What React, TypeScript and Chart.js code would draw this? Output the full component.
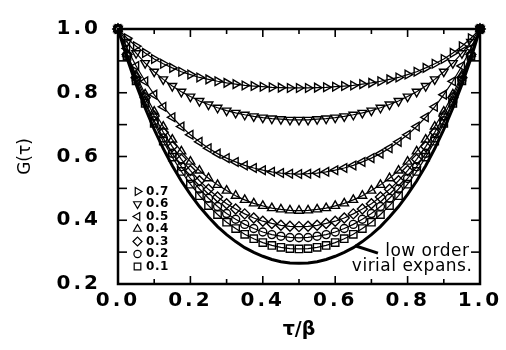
import React, { useEffect, useRef } from 'react';
import { Chart, registerables } from 'chart.js';
import { drawPoint } from 'chart.js/helpers';

Chart.register(...registerables);

const tauBeta = [0,0.025,0.05,0.075,0.1,0.125,0.15,0.175,0.2,0.225,0.25,0.275,0.3,0.325,0.35,0.375,0.4,0.425,0.45,0.475,0.5,0.525,0.55,0.575,0.6,0.625,0.65,0.675,0.7,0.725,0.75,0.775,0.8,0.825,0.85,0.875,0.9,0.925,0.95,0.975,1];

const g07 = [1.000,0.971,0.946,0.925,0.906,0.891,0.878,0.866,0.857,0.848,0.842,0.836,0.831,0.827,0.823,0.821,0.819,0.817,0.816,0.815,0.815,0.815,0.816,0.817,0.819,0.821,0.823,0.827,0.831,0.836,0.842,0.848,0.857,0.866,0.878,0.891,0.906,0.925,0.946,0.971,1.000];
const g06 = [1.000,0.959,0.924,0.893,0.866,0.842,0.821,0.803,0.788,0.774,0.763,0.753,0.744,0.737,0.731,0.726,0.722,0.719,0.717,0.715,0.715,0.715,0.717,0.719,0.722,0.726,0.731,0.737,0.744,0.753,0.763,0.774,0.788,0.803,0.821,0.842,0.866,0.893,0.924,0.959,1.000];
const g05 = [1.000,0.939,0.884,0.836,0.794,0.756,0.723,0.694,0.668,0.646,0.626,0.609,0.595,0.583,0.572,0.564,0.557,0.552,0.548,0.546,0.545,0.546,0.548,0.552,0.557,0.564,0.572,0.583,0.595,0.609,0.626,0.646,0.668,0.694,0.723,0.756,0.794,0.836,0.884,0.939,1.000];
const g04 = [1.000,0.923,0.855,0.795,0.741,0.694,0.653,0.616,0.584,0.556,0.532,0.511,0.493,0.477,0.464,0.453,0.445,0.438,0.434,0.431,0.430,0.431,0.434,0.438,0.445,0.453,0.464,0.477,0.493,0.511,0.532,0.556,0.584,0.616,0.653,0.694,0.741,0.795,0.855,0.923,1.000];
const g03 = [1.000,0.920,0.848,0.784,0.727,0.676,0.631,0.591,0.556,0.524,0.497,0.473,0.452,0.435,0.420,0.407,0.397,0.390,0.384,0.381,0.380,0.381,0.384,0.390,0.397,0.407,0.420,0.435,0.452,0.473,0.497,0.524,0.556,0.591,0.631,0.676,0.727,0.784,0.848,0.920,1.000];
const g02 = [1.000,0.915,0.840,0.772,0.712,0.658,0.610,0.568,0.531,0.498,0.469,0.443,0.421,0.403,0.387,0.374,0.363,0.355,0.350,0.346,0.345,0.346,0.350,0.355,0.363,0.374,0.387,0.403,0.421,0.443,0.469,0.498,0.531,0.568,0.610,0.658,0.712,0.772,0.840,0.915,1.000];
const g01 = [1.000,0.914,0.837,0.767,0.704,0.648,0.598,0.553,0.513,0.477,0.446,0.418,0.394,0.374,0.356,0.342,0.330,0.321,0.315,0.311,0.310,0.311,0.315,0.321,0.330,0.342,0.356,0.374,0.394,0.418,0.446,0.477,0.513,0.553,0.598,0.648,0.704,0.767,0.837,0.914,1.000];
const virial = [1.000,0.908,0.826,0.752,0.685,0.625,0.571,0.523,0.481,0.443,0.410,0.380,0.355,0.333,0.314,0.299,0.287,0.277,0.270,0.266,0.265,0.266,0.270,0.277,0.287,0.299,0.314,0.333,0.355,0.380,0.410,0.443,0.481,0.523,0.571,0.625,0.685,0.752,0.826,0.908,1.000];

const seriesLabels = ['0.7', '0.6', '0.5', '0.4', '0.3', '0.2', '0.1'];
const seriesValues = [g07, g06, g05, g04, g03, g02, g01];
const virialLabel = 'low order virial expans.';

const annotationText = ['low order', 'virial expans.'];
const annotationPos = [[0.738, 0.303], [0.646, 0.256]];
const arrowFrom = [0.718, 0.297];
const arrowTo = [0.655, 0.32];

const markerStyles = [
  { pointStyle: 'triangle', rotation: 90, radius: 5 },
  { pointStyle: 'triangle', rotation: 180, radius: 5 },
  { pointStyle: 'triangle', rotation: -90, radius: 5 },
  { pointStyle: 'triangle', rotation: 0, radius: 5 },
  { pointStyle: 'rectRot', rotation: 0, radius: 5 },
  { pointStyle: 'circle', rotation: 0, radius: 4 },
  { pointStyle: 'rect', rotation: 0, radius: 5.2 },
];

const FONT = '"DejaVu Sans", "Liberation Sans", sans-serif';

const framePlugin = {
  id: 'framePlugin',
  beforeDraw(chart: any) {
    chart.ctx.letterSpacing = '0px';
  },
  afterDatasetsDraw(chart: any) {
    const { ctx, chartArea: a, scales } = chart;
    const x = scales.x, y = scales.y;
    ctx.save();
    ctx.strokeStyle = '#000';
    ctx.lineWidth = 1.6;
    const seg = (x1: number, y1: number, x2: number, y2: number) => {
      ctx.beginPath(); ctx.moveTo(x1, y1); ctx.lineTo(x2, y2); ctx.stroke();
    };
    x.ticks.forEach((t: any) => {
      const px = x.getPixelForValue(t.value);
      const major = Math.round(t.value * 10) % 2 === 0;
      const L = major ? 8 : 5;
      seg(px, a.bottom, px, a.bottom - L);
      seg(px, a.top, px, a.top + L);
    });
    y.ticks.forEach((t: any) => {
      const py = y.getPixelForValue(t.value);
      const L = 9;
      seg(a.left, py, a.left + L, py);
      seg(a.right, py, a.right - L, py);
    });
    ctx.lineWidth = 2.5;
    ctx.strokeRect(a.left, a.top, a.right - a.left, a.bottom - a.top);
    ctx.restore();
    ctx.letterSpacing = '3px';
  },
  afterDraw(chart: any) {
    const { ctx, chartArea: a, scales } = chart;
    const x = scales.x, y = scales.y;
    ctx.save();
    ctx.letterSpacing = '0.6px';
    ctx.font = 'bold 12px ' + FONT;
    ctx.textBaseline = 'middle';
    ctx.textAlign = 'left';
    ctx.fillStyle = '#000';
    seriesLabels.forEach((lab, i) => {
      const ry = a.bottom - 92.5 + i * 12.5;
      const ms = markerStyles[i];
      ctx.save();
      ctx.fillStyle = 'rgba(0,0,0,0)';
      ctx.strokeStyle = '#000';
      ctx.lineWidth = 1.2;
      drawPoint(ctx, { pointStyle: ms.pointStyle, rotation: ms.rotation, radius: ms.radius * 0.9, borderWidth: 1.2 }, a.left + 19.5, ry);
      ctx.restore();
      ctx.fillStyle = '#000';
      ctx.fillText(lab, a.left + 28, ry);
    });
    ctx.letterSpacing = '0.5px';
    ctx.font = '17px ' + FONT;
    annotationText.forEach((txt, i) => {
      const [vx, vy] = annotationPos[i];
      ctx.fillText(txt, x.getPixelForValue(vx), y.getPixelForValue(vy));
    });
    ctx.strokeStyle = '#000';
    ctx.lineWidth = 3;
    ctx.beginPath();
    ctx.moveTo(x.getPixelForValue(arrowFrom[0]), y.getPixelForValue(arrowFrom[1]));
    ctx.lineTo(x.getPixelForValue(arrowTo[0]), y.getPixelForValue(arrowTo[1]));
    ctx.stroke();
    ctx.restore();
    ctx.letterSpacing = '0px';
  },
};

export default function App() {
  const ref = useRef<HTMLCanvasElement>(null);
  useEffect(() => {
    document.body.style.margin = '0';
    const canvas = ref.current!;
    const markerSets = seriesValues.map((vals, i) => {
      const ms = markerStyles[i];
      const last = vals.length - 1;
      return {
        label: seriesLabels[i],
        data: tauBeta.map((t, k) => ({ x: t, y: vals[k] })),
        showLine: true,
        borderColor: '#000',
        borderWidth: 1.2,
        pointStyle: ms.pointStyle,
        pointRotation: ms.rotation,
        pointRadius: ms.radius,
        pointBorderWidth: 1.4,
        pointBorderColor: '#000',
        pointBackgroundColor: i === seriesValues.length - 1
          ? (c: any) => (c.dataIndex === last ? '#000' : 'rgba(0,0,0,0)')
          : 'rgba(0,0,0,0)',
        clip: false as any,
      };
    });
    const chart = new Chart(canvas, {
      type: 'scatter',
      data: {
        datasets: [
          {
            label: virialLabel,
            data: tauBeta.map((t, k) => ({ x: t, y: virial[k] })),
            showLine: true,
            borderColor: '#000',
            borderWidth: 3,
            pointRadius: 0,
            clip: false as any,
          } as any,
          ...markerSets,
        ],
      },
      options: {
        animation: false,
        responsive: false,
        maintainAspectRatio: false,
        layout: { padding: { left: 0, right: 26, top: 12, bottom: 0 } },
        plugins: { legend: { display: false }, tooltip: { enabled: false } },
        scales: {
          x: {
            type: 'linear',
            min: 0,
            max: 1,
            grid: { display: false, drawTicks: false },
            border: { display: false },
            afterFit: (s: any) => { s.height = 66; },
            ticks: {
              stepSize: 0.1,
              z: 1,
              padding: 5,
              color: '#000',
              autoSkip: false,
              maxRotation: 0,
              font: { family: FONT, weight: 'bold', size: 20 },
              callback: (v: any) => (Math.round(v * 10) % 2 === 0 ? Number(v).toFixed(1) : ''),
            },
            title: {
              display: true,
              text: 'τ/β',
              color: '#000',
              font: { family: FONT, weight: 'bold', size: 19 },
              padding: { top: 0, bottom: 9 },
            },
          },
          y: {
            type: 'linear',
            min: 0.2,
            max: 1,
            grid: { display: false, drawTicks: false },
            border: { display: false },
            afterFit: (s: any) => { s.width = 118; },
            ticks: {
              stepSize: 0.1,
              z: 1,
              padding: 17,
              color: '#000',
              autoSkip: false,
              font: { family: FONT, weight: 'bold', size: 20 },
              callback: (v: any) => (Math.round(v * 10) % 2 === 0 ? Number(v).toFixed(1) : ''),
            },
            title: {
              display: true,
              text: 'G(τ)',
              color: '#000',
              font: { family: FONT, size: 17 },
              padding: { top: 15, bottom: 0 },
            },
          },
        },
      } as any,
      plugins: [framePlugin],
    });
    return () => chart.destroy();
  }, []);
  return (
    <div style={{ width: 506, height: 350, background: '#fff' }}>
      <canvas ref={ref} width={506} height={350} style={{ width: 506, height: 350, display: 'block' }} />
    </div>
  );
}
